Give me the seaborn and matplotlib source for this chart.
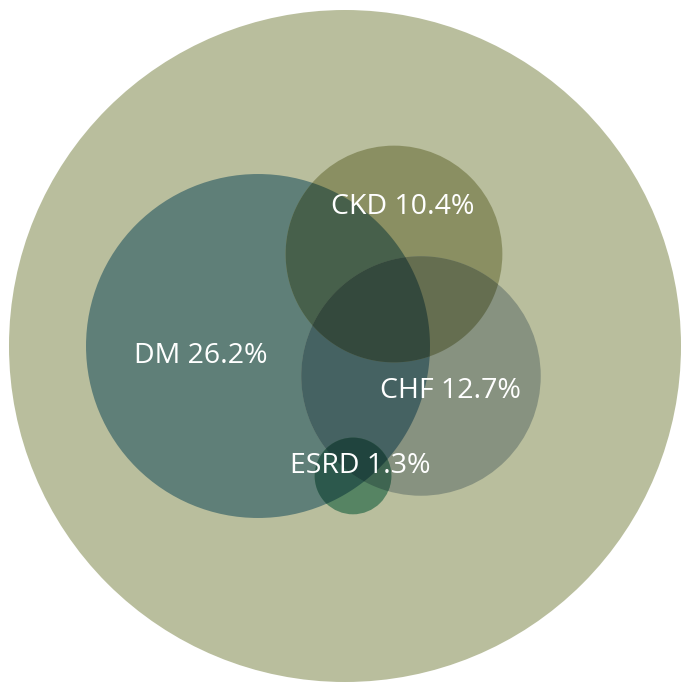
import numpy as np
import matplotlib
matplotlib.use("Agg")
import matplotlib.pyplot as plt
import seaborn as sns
from matplotlib.patches import Circle, Polygon
from itertools import combinations

# ---- data ----
labels = ["DM", "CKD", "CHF", "ESRD"]
percents = [26.2, 10.4, 12.7, 1.3]
total_percent = 100.0
# colours of each circle where it lies alone on the background
solo_colors = ["#5f7f78", "#8a8f62", "#879280", "#568463"]
base_color = "#b9be9d"

# ---- layout (pixel coordinates) ----
centers_x = [258, 394, 421, 353]
centers_y = [346, 254, 376, 476]
label_x = [201, 403, 450, 360]
label_y = [356, 207, 391, 466]
outer_center = (345, 346)
outer_radius = 336

sns.set_theme(style="white")
plt.rcParams["font.family"] = ["Open Sans", "DejaVu Sans"]

W, H = 681, 683
fig = plt.figure(figsize=(W / 100, H / 100), dpi=100)
ax = fig.add_axes([0, 0, 1, 1])
ax.set_xlim(0, W)
ax.set_ylim(H, 0)
ax.set_aspect("equal")
ax.axis("off")

base = np.array(matplotlib.colors.to_rgb(base_color))
mult = [np.array(matplotlib.colors.to_rgb(c)) / base for c in solo_colors]
radii = [outer_radius * np.sqrt(p / total_percent) for p in percents]

ax.add_patch(Circle(outer_center, outer_radius, facecolor=base_color, edgecolor="none"))


def region(idx):
    th = np.linspace(0, 2 * np.pi, 2880, endpoint=False)
    pts = []
    for i in idx:
        x = centers_x[i] + radii[i] * np.cos(th)
        y = centers_y[i] + radii[i] * np.sin(th)
        ok = np.ones_like(x, dtype=bool)
        for j in idx:
            if j != i:
                ok &= (x - centers_x[j]) ** 2 + (y - centers_y[j]) ** 2 <= radii[j] ** 2
        pts.append(np.c_[x[ok], y[ok]])
    P = np.vstack(pts)
    if len(P) < 3:
        return None
    c = P.mean(axis=0)
    ang = np.arctan2(P[:, 1] - c[1], P[:, 0] - c[0])
    return P[np.argsort(ang)]


n = len(labels)
for k in range(1, n + 1):
    for idx in combinations(range(n), k):
        col = base.copy()
        for i in idx:
            col = col * mult[i]
        col = np.clip(col, 0, 1)
        if k == 1:
            i = idx[0]
            ax.add_patch(Circle((centers_x[i], centers_y[i]), radii[i],
                                facecolor=col, edgecolor="none", zorder=k))
        else:
            poly = region(idx)
            if poly is not None:
                ax.add_patch(Polygon(poly, closed=True, facecolor=col,
                                     edgecolor="none", zorder=k))

for lab, p, x, y in zip(labels, percents, label_x, label_y):
    ax.text(x, y, f"{lab} {p}%", color="white", fontsize=20.5,
            ha="center", va="center", zorder=10)

fig.savefig("out.png", dpi=100, facecolor="white")
